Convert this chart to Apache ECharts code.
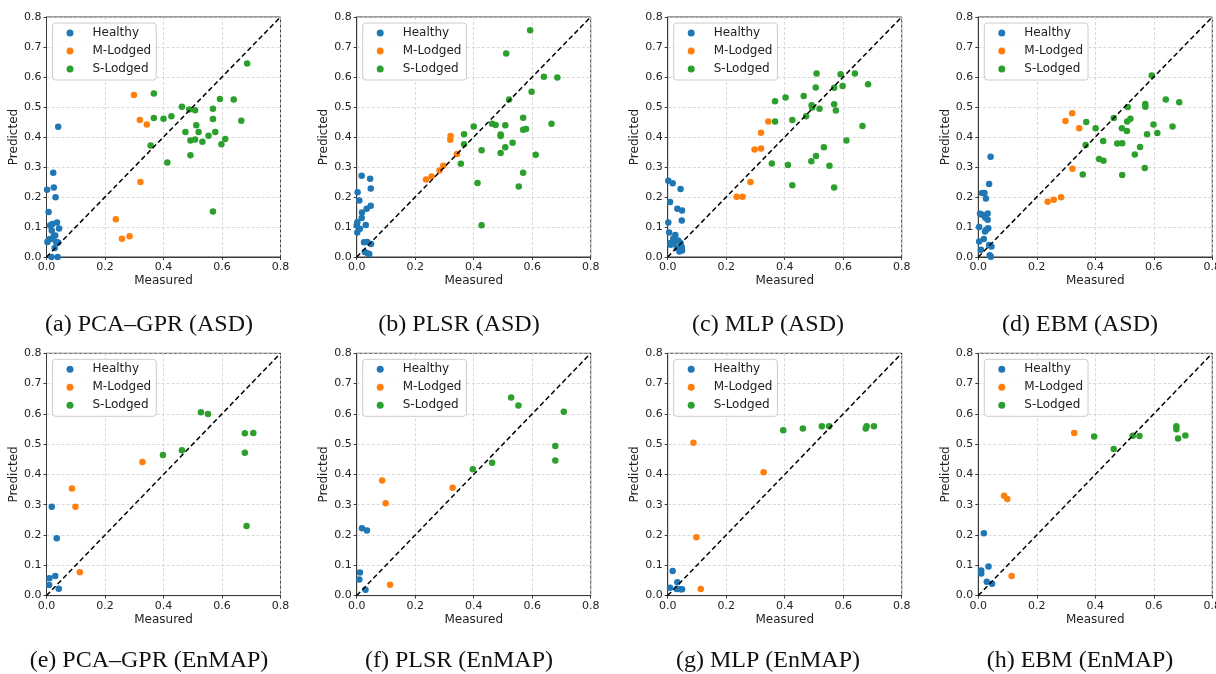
<!DOCTYPE html>
<html>
<head>
<meta charset="utf-8">
<script src="https://cdn.jsdelivr.net/npm/echarts@6/dist/echarts.min.js"></script>
<style>
  html, body { margin: 0; padding: 0; background: #fff; }
  #chart { width: 1216px; height: 674px; }
</style>
</head>
<body>
<div id="chart"></div>
<script>
// Measured vs. predicted lodging values, [measured, predicted] pairs per model, sensor and class.

// ---- ASD ----
const pcaGprAsdHealthy = [[0.040,0.434],[0.023,0.281],[0.025,0.232],[0.031,0.199],[0.002,0.224],[0.007,0.150],[0.012,0.105],[0.020,0.110],[0.036,0.115],[0.043,0.095],[0.018,0.088],[0.025,0.070],[0.008,0.058],[0.003,0.050],[0.033,0.050],[0.028,0.030],[0.017,0.000],[0.038,0.000],[0.030,0.072],[0.040,0.048],[0.015,0.060]];
const pcaGprAsdMLodged = [[0.299,0.540],[0.319,0.457],[0.343,0.442],[0.321,0.250],[0.237,0.126],[0.258,0.061],[0.284,0.069]];
const pcaGprAsdSLodged = [[0.367,0.545],[0.686,0.645],[0.463,0.501],[0.367,0.463],[0.400,0.461],[0.427,0.469],[0.488,0.492],[0.508,0.489],[0.569,0.494],[0.593,0.527],[0.640,0.525],[0.666,0.454],[0.569,0.460],[0.512,0.439],[0.475,0.417],[0.520,0.417],[0.577,0.417],[0.554,0.404],[0.492,0.388],[0.508,0.392],[0.533,0.384],[0.611,0.393],[0.598,0.376],[0.356,0.372],[0.492,0.339],[0.413,0.315],[0.569,0.152]];

const plsrAsdHealthy = [[0.017,0.271],[0.046,0.261],[0.048,0.228],[0.003,0.216],[0.009,0.188],[0.048,0.171],[0.034,0.161],[0.018,0.148],[0.017,0.130],[0.002,0.116],[0.031,0.107],[0.011,0.094],[0.002,0.082],[0.000,0.105],[0.025,0.049],[0.036,0.050],[0.049,0.043],[0.028,0.017],[0.043,0.010],[0.038,0.012]];
const plsrAsdMLodged = [[0.321,0.403],[0.320,0.391],[0.343,0.343],[0.296,0.304],[0.283,0.288],[0.256,0.268],[0.237,0.258]];
const plsrAsdSLodged = [[0.593,0.756],[0.511,0.678],[0.640,0.601],[0.686,0.598],[0.598,0.551],[0.521,0.525],[0.569,0.464],[0.666,0.444],[0.463,0.444],[0.475,0.440],[0.508,0.439],[0.400,0.435],[0.569,0.424],[0.579,0.427],[0.367,0.409],[0.492,0.408],[0.492,0.403],[0.367,0.376],[0.533,0.381],[0.508,0.366],[0.427,0.356],[0.492,0.347],[0.612,0.341],[0.356,0.311],[0.569,0.281],[0.413,0.247],[0.554,0.235],[0.427,0.106]];

const mlpAsdHealthy = [[0.002,0.254],[0.017,0.246],[0.044,0.227],[0.008,0.183],[0.033,0.161],[0.049,0.155],[0.048,0.122],[0.002,0.115],[0.005,0.082],[0.026,0.073],[0.008,0.047],[0.019,0.062],[0.036,0.055],[0.044,0.047],[0.048,0.033],[0.042,0.027],[0.031,0.030],[0.022,0.047],[0.010,0.041],[0.049,0.022],[0.040,0.018]];
const mlpAsdMLodged = [[0.344,0.452],[0.319,0.414],[0.319,0.362],[0.297,0.358],[0.283,0.250],[0.236,0.201],[0.256,0.201]];
const mlpAsdSLodged = [[0.509,0.612],[0.591,0.609],[0.640,0.612],[0.685,0.576],[0.506,0.565],[0.569,0.564],[0.598,0.570],[0.367,0.519],[0.403,0.532],[0.465,0.537],[0.492,0.506],[0.494,0.498],[0.569,0.509],[0.519,0.494],[0.575,0.488],[0.426,0.457],[0.367,0.452],[0.473,0.469],[0.666,0.437],[0.611,0.388],[0.534,0.366],[0.507,0.337],[0.491,0.319],[0.553,0.304],[0.356,0.312],[0.411,0.307],[0.426,0.239],[0.569,0.232]];

const ebmAsdHealthy = [[0.042,0.334],[0.037,0.243],[0.013,0.213],[0.021,0.213],[0.026,0.195],[0.006,0.144],[0.013,0.141],[0.032,0.145],[0.024,0.131],[0.032,0.124],[0.003,0.100],[0.034,0.096],[0.023,0.085],[0.027,0.091],[0.019,0.060],[0.003,0.052],[0.009,0.024],[0.037,0.040],[0.045,0.035],[0.039,0.006],[0.043,0.001]];
const ebmAsdMLodged = [[0.321,0.479],[0.298,0.453],[0.345,0.429],[0.322,0.294],[0.237,0.184],[0.258,0.191],[0.283,0.199]];
const ebmAsdSLodged = [[0.593,0.605],[0.641,0.525],[0.687,0.516],[0.571,0.510],[0.571,0.501],[0.511,0.500],[0.520,0.461],[0.509,0.452],[0.463,0.463],[0.369,0.450],[0.401,0.429],[0.491,0.429],[0.508,0.420],[0.599,0.442],[0.664,0.435],[0.577,0.409],[0.612,0.413],[0.367,0.373],[0.427,0.387],[0.475,0.378],[0.492,0.379],[0.553,0.367],[0.535,0.342],[0.413,0.327],[0.428,0.321],[0.569,0.297],[0.357,0.275],[0.492,0.273]];

// ---- EnMAP ----
const pcaGprEnmapHealthy = [[0.018,0.293],[0.035,0.189],[0.010,0.057],[0.030,0.065],[0.009,0.035],[0.042,0.023]];
const pcaGprEnmapMLodged = [[0.087,0.354],[0.099,0.293],[0.114,0.077],[0.328,0.441]];
const pcaGprEnmapSLodged = [[0.528,0.605],[0.552,0.600],[0.398,0.464],[0.463,0.480],[0.678,0.536],[0.707,0.537],[0.678,0.472],[0.684,0.230]];

const plsrEnmapHealthy = [[0.018,0.222],[0.035,0.215],[0.011,0.076],[0.009,0.053],[0.030,0.019]];
const plsrEnmapMLodged = [[0.087,0.380],[0.099,0.305],[0.114,0.036],[0.328,0.356]];
const plsrEnmapSLodged = [[0.528,0.654],[0.553,0.628],[0.708,0.607],[0.679,0.494],[0.679,0.446],[0.397,0.417],[0.463,0.439]];

const mlpEnmapHealthy = [[0.017,0.081],[0.008,0.026],[0.033,0.044],[0.031,0.022],[0.044,0.021],[0.049,0.021]];
const mlpEnmapMLodged = [[0.088,0.505],[0.098,0.193],[0.113,0.022],[0.328,0.407]];
const mlpEnmapSLodged = [[0.395,0.546],[0.462,0.552],[0.527,0.559],[0.552,0.559],[0.677,0.552],[0.680,0.559],[0.705,0.559]];

const ebmEnmapHealthy = [[0.019,0.206],[0.035,0.096],[0.010,0.083],[0.010,0.073],[0.029,0.046],[0.047,0.039]];
const ebmEnmapMLodged = [[0.088,0.330],[0.099,0.319],[0.114,0.065],[0.328,0.537]];
const ebmEnmapSLodged = [[0.396,0.525],[0.463,0.484],[0.528,0.528],[0.551,0.527],[0.677,0.559],[0.677,0.549],[0.683,0.519],[0.708,0.529]];

const captions = [
  '(a) PCA–GPR (ASD)', '(b) PLSR (ASD)', '(c) MLP (ASD)', '(d) EBM (ASD)',
  '(e) PCA–GPR (EnMAP)', '(f) PLSR (EnMAP)', '(g) MLP (EnMAP)', '(h) EBM (EnMAP)'
];
const classNames = ['Healthy', 'M-Lodged', 'S-Lodged'];
const identityLine = [[0, 0], [0.8, 0.8]];

const panelData = [
  [pcaGprAsdHealthy, pcaGprAsdMLodged, pcaGprAsdSLodged],
  [plsrAsdHealthy, plsrAsdMLodged, plsrAsdSLodged],
  [mlpAsdHealthy, mlpAsdMLodged, mlpAsdSLodged],
  [ebmAsdHealthy, ebmAsdMLodged, ebmAsdSLodged],
  [pcaGprEnmapHealthy, pcaGprEnmapMLodged, pcaGprEnmapSLodged],
  [plsrEnmapHealthy, plsrEnmapMLodged, plsrEnmapSLodged],
  [mlpEnmapHealthy, mlpEnmapMLodged, mlpEnmapSLodged],
  [ebmEnmapHealthy, ebmEnmapMLodged, ebmEnmapSLodged]
];

// ---- layout & style ----
const classColors = ['#1f77b4', '#ff7f0e', '#2ca02c'];
const colLeft = [46.5, 356.7, 667.7, 978.3];
const rowTop = [17, 353.3];
const plotW = 234;
const plotH = [240, 242.3];
const captionX = [149, 459, 768, 1080];
const captionY = [325, 661];
const frameColor = '#3a3a3a';
const textColor = '#222';
const sansFont = '"DejaVu Sans", sans-serif';

const grid = [], xAxis = [], yAxis = [], series = [], legend = [], graphic = [];

panelData.forEach((sets, i) => {
  const r = Math.floor(i / 4), c = i % 4;
  const left = colLeft[c], top = rowTop[r], h = plotH[r];

  grid.push({
    left: left, top: top, width: plotW, height: h,
    show: true, borderColor: frameColor, borderWidth: 1,
    containLabel: false, outerBoundsMode: 'none'
  });

  const common = {
    gridIndex: i, type: 'value', min: 0, max: 0.8,
    nameLocation: 'middle',
    nameTextStyle: { fontFamily: sansFont, fontSize: 12, color: textColor },
    axisLine: { show: true, onZero: false, lineStyle: { color: frameColor, width: 1 } },
    axisTick: { show: true, length: 3, lineStyle: { color: frameColor, width: 1 } },
    axisLabel: { fontFamily: sansFont, fontSize: 11, color: textColor, margin: 5,
                 formatter: v => v.toFixed(1) },
    splitLine: { show: true, lineStyle: { color: '#cfcfcf', width: 0.8, type: [3, 2] } }
  };
  xAxis.push(Object.assign({}, common, { interval: 0.2, name: 'Measured', nameGap: 18 }));
  yAxis.push(Object.assign({}, common, { interval: 0.1, name: 'Predicted', nameGap: 22 }));

  sets.forEach((pts, k) => {
    series.push({
      type: 'scatter', name: classNames[k], xAxisIndex: i, yAxisIndex: i,
      data: pts, symbol: 'circle', symbolSize: 6.5,
      itemStyle: { color: classColors[k], opacity: 1 },
      emphasis: { disabled: true }, z: 2
    });
  });

  series.push({
    type: 'line', name: 'identity', xAxisIndex: i, yAxisIndex: i,
    data: identityLine, symbol: 'none', silent: true,
    lineStyle: { color: '#000', width: 1.5, type: [5, 3] }, z: 3
  });

  legend.push({
    left: left + 6, top: top + 6, orient: 'vertical',
    data: classNames.map(n => ({ name: n, icon: 'circle' })),
    itemWidth: 7, itemHeight: 7, itemGap: 4,
    padding: [3, 5, 4, 14],
    borderColor: '#cccccc', borderWidth: 1, borderRadius: 3,
    backgroundColor: 'rgba(255,255,255,0.85)',
    selectedMode: false,
    textStyle: { fontFamily: sansFont, fontSize: 12, color: textColor, lineHeight: 14,
                 padding: [0, 0, 0, 14] }
  });

  graphic.push({
    type: 'text',
    x: captionX[c], y: captionY[r],
    style: {
      text: captions[i], textAlign: 'center', textVerticalAlign: 'middle',
      font: '24px "Liberation Serif", serif', fill: '#111'
    }
  });
});

const chart = echarts.init(document.getElementById('chart'), null, { renderer: 'canvas' });
chart.setOption({
  animation: false,
  backgroundColor: '#fff',
  grid, xAxis, yAxis, series, legend, graphic
});
</script>
</body>
</html>
